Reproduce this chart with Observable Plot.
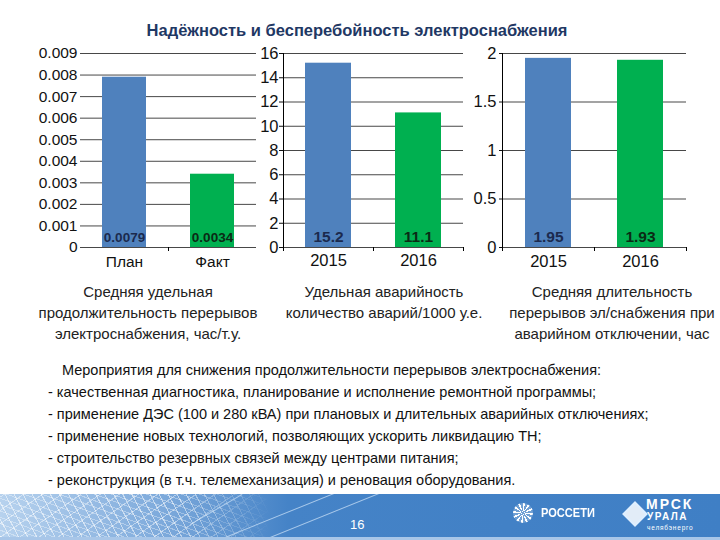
<!DOCTYPE html>
<html><head><meta charset="utf-8">
<script src="https://cdn.jsdelivr.net/npm/d3@7"></script>
<script src="https://cdn.jsdelivr.net/npm/@observablehq/plot@0.6"></script>
<style>
body{margin:0;background:#fff;}
#slide{position:relative;width:720px;height:540px;overflow:hidden;font-family:"Liberation Sans",Arial,sans-serif;background:#fff;}
#title{position:absolute;left:0;width:714px;top:21px;text-align:center;font:bold 16.5px "Liberation Sans",Arial,sans-serif;color:#1F3864;}
.cap{position:absolute;top:281px;width:300px;text-align:center;font-size:15px;line-height:21px;color:#222;white-space:nowrap;}
.chart{position:absolute;top:40px;}
#notes{position:absolute;left:48px;top:359px;font-size:14.5px;line-height:22px;color:#111;white-space:nowrap;}
#banner{position:absolute;left:0;top:494px;width:720px;height:43px;background:linear-gradient(90deg,#b7d2ee 0%,#7fabdc 22%,#4583c7 40%,#3f7fc5 100%);overflow:hidden;}
#lattice{position:absolute;left:0;top:0;width:270px;height:43px;
 background:repeating-linear-gradient(62deg,rgba(255,255,255,.55) 0 1px,transparent 1px 8px),repeating-linear-gradient(-35deg,rgba(255,255,255,.45) 0 1px,transparent 1px 11px),repeating-linear-gradient(20deg,rgba(255,255,255,.35) 0 1px,transparent 1px 6px);
 -webkit-mask-image:linear-gradient(90deg,#000 0%,#000 65%,transparent 100%);mask-image:linear-gradient(90deg,#000 0%,#000 65%,transparent 100%);}
.wire{position:absolute;height:1px;background:rgba(210,230,250,.7);transform-origin:0 0;}
#strip{position:absolute;left:0;top:537px;width:720px;height:3px;background:#a8c6e8;}
#pnum{position:absolute;left:350px;top:517px;font:13px "Liberation Sans",sans-serif;color:#fff;}
#ros-ic{position:absolute;left:513px;top:503px;width:20px;height:20px;border-radius:50%;background:repeating-conic-gradient(#fff 0 12deg,rgba(255,255,255,.25) 12deg 30deg);}
#ros-t{position:absolute;left:541px;top:505px;color:#fff;font:bold 13px "Liberation Sans",sans-serif;transform:scaleX(.85);transform-origin:0 0;white-space:nowrap;}
#mr-ic{position:absolute;left:626px;top:505px;width:14px;height:14px;transform:rotate(45deg);background:rgba(255,255,255,.85);border:2px solid #dfefff;}
.mr{position:absolute;color:#fff;font-family:"Liberation Sans",sans-serif;font-weight:bold;white-space:nowrap;}
</style></head>
<body><div id="slide">
<div id="title">Надёжность и бесперебойность электроснабжения</div>
<div class="chart" id="c1" style="left:0px"></div>
<div class="chart" id="c2" style="left:240px"></div>
<div class="chart" id="c3" style="left:470px"></div>
<div class="cap" style="left:-2px">Средняя удельная<br>продолжительность перерывов<br>электроснабжения, час/т.у.</div>
<div class="cap" style="left:234px">Удельная аварийность<br>количество аварий/1000 у.е.</div>
<div class="cap" style="left:462px">Средняя длительность<br>перерывов эл/снабжения при<br>аварийном отключении, час</div>
<div id="notes"></div>
<div id="banner"><div id="lattice"></div>
<div class="wire" style="left:225px;top:43px;width:120px;transform:rotate(-22deg)"></div>
<div class="wire" style="left:270px;top:43px;width:120px;transform:rotate(-22deg)"></div>
<div class="wire" style="left:190px;top:30px;width:60px;transform:rotate(-30deg)"></div>
</div>
<div id="strip"></div>
<div id="pnum">16</div>
<div id="ros-ic"></div><div id="ros-t">РОССЕТИ</div>
<div id="mr-ic"></div>
<div class="mr" style="left:646px;top:498px;font-size:14px;line-height:13px;letter-spacing:2px">МРСК</div>
<div class="mr" style="left:647px;top:512px;font-size:10px;line-height:10px;letter-spacing:1.5px">УРАЛА</div>
<div class="mr" style="left:647px;top:524px;font-size:6.5px;line-height:7px;font-weight:normal;letter-spacing:.8px">челябэнерго</div>
</div>
<script>
// ---- data ----
const cats1 = ["План", "Факт"];
const vals1 = [0.0079, 0.0034];
const ticks1 = [0, 0.001, 0.002, 0.003, 0.004, 0.005, 0.006, 0.007, 0.008, 0.009];

const cats2 = ["2015", "2016"];
const vals2 = [15.2, 11.1];
const ticks2 = [0, 2, 4, 6, 8, 10, 12, 14, 16];

const cats3 = ["2015", "2016"];
const vals3 = [1.95, 1.93];
const ticks3 = [0, 0.5, 1, 1.5, 2];

const notes = [
  "Мероприятия для снижения продолжительности перерывов электроснабжения:",
  "- качественная диагностика, планирование и исполнение ремонтной программы;",
  "- применение ДЭС (100 и 280 кВА) при плановых и длительных аварийных отключениях;",
  "- применение новых технологий, позволяющих ускорить ликвидацию ТН;",
  "- строительство резервных связей между центрами питания;",
  "- реконструкция (в т.ч. телемеханизация) и реновация оборудования."
];

const barColors = ["#4F81BD", "#00B050"];
const labelColors = ["#1B2A4E", "#0B2A15"];

function makeChart({cats, vals, ticks, width, ml, mr, inset, tickFont, labelSize, yTickSize, yTickPad, yLine, xPad}) {
  const data = cats.map((c, i) => ({cat: c, value: vals[i]}));
  const height = 240, mt = 13, mb = 33;
  const bw = (width - ml - mr) / cats.length;
  const ymax = ticks[ticks.length - 1];
  const font = '"Liberation Sans",Arial,sans-serif';
  const marks = [
    Plot.ruleY(ticks, {stroke: "#000", strokeOpacity: 0.72})
  ];
  data.forEach((d, i) => {
    marks.push(Plot.barY([d], {x: "cat", y: "value", fill: barColors[i], insetLeft: inset, insetRight: inset}));
    marks.push(Plot.text([d], {x: "cat", y: () => 0, text: dd => String(dd.value), dy: -10, fill: labelColors[i],
      fontWeight: "bold", fontSize: labelSize, fontFamily: font}));
  });
  // category boundary ticks (Excel style)
  marks.push(Plot.ruleX(cats.slice(1), {dx: -bw / 2, y1: () => 0, y2: () => 0, insetBottom: -4, stroke: "#000"}));
  if (yLine) {
    marks.push(Plot.ruleX([cats[cats.length - 1]], {dx: bw / 2, y1: () => 0, y2: () => 0, insetBottom: -4, stroke: "#000"}));
    marks.push(Plot.ruleX([cats[0]], {dx: -bw / 2, y1: () => ymax, y2: () => 0, insetBottom: -4, stroke: "#000"}));
  }
  return Plot.plot({
    width, height, marginLeft: ml, marginRight: mr, marginTop: mt, marginBottom: mb,
    style: {fontFamily: font, fontSize: tickFont + "px", color: "#111", background: "transparent", overflow: "visible"},
    x: {domain: cats, padding: 0, tickSize: 0, tickPadding: xPad, label: null},
    y: {domain: [0, ymax], ticks, tickSize: yTickSize, tickPadding: yTickPad, tickFormat: d => String(d), label: null},
    marks
  });
}

document.getElementById("c1").append(makeChart({cats: cats1, vals: vals1, ticks: ticks1, width: 262, ml: 80, mr: 6, inset: 22,
  tickFont: 15.5, labelSize: 13.5, yTickSize: 0, yTickPad: 3, yLine: false, xPad: 8}));
document.getElementById("c2").append(makeChart({cats: cats2, vals: vals2, ticks: ticks2, width: 228, ml: 43, mr: 5, inset: 22,
  tickFont: 16.5, labelSize: 15.5, yTickSize: 4, yTickPad: 1, yLine: true, xPad: 7}));
document.getElementById("c3").append(makeChart({cats: cats3, vals: vals3, ticks: ticks3, width: 221, ml: 32, mr: 5, inset: 23,
  tickFont: 16.5, labelSize: 15.5, yTickSize: 3, yTickPad: 3, yLine: true, xPad: 8}));

const nd = document.getElementById("notes");
notes.forEach((t, i) => {
  const el = document.createElement("div");
  el.textContent = t;
  if (i === 0) el.style.paddingLeft = "14px";
  nd.append(el);
});
</script>
</body></html>
